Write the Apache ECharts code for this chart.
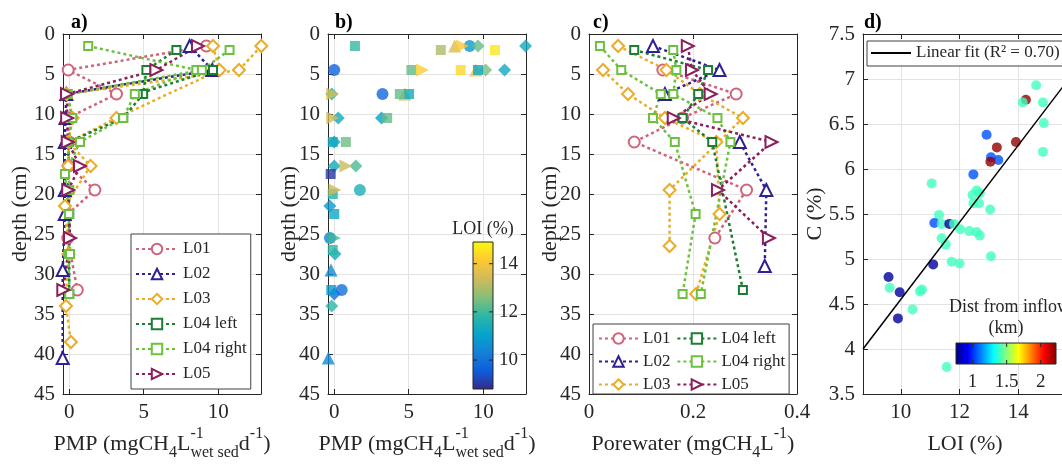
<!DOCTYPE html>
<html>
<head>
<meta charset="utf-8">
<script src="https://cdn.jsdelivr.net/npm/echarts@6.0.0/dist/echarts.min.js"></script>
<style>
  html, body { margin: 0; padding: 0; background: #fff; }
  #chart { width: 1062px; height: 465px; }
</style>
</head>
<body>
<div id="chart"></div>
<script>
// values, one array per profile
const GAP = ['-', '-'];

// a) PMP profiles: [PMP, depth]
const pmpL01 = [[9.2,1.5],[-0.07,4.5],[3.17,7.5],[-0.1,10.5],[0,13.5],[-0.05,16.5],[1.72,19.5],[-0.1,22.5],[-0.1,25.5],[0.54,32]];
const pmpL02 = [[8.08,1.5],[9.6,4.5],[-0.2,7.5],[-0.25,10.5],[-0.3,13.5],[-0.3,19.5],[-0.3,22.5],[-0.44,29.5],[-0.44,40.5]];
const pmpL03 = [[12.89,1.5],[11.39,4.5],[-0.17,7.5],[0.23,10.5],[-0.07,13.5],[1.43,16.5],[-0.29,21.5],[-0.05,27.5],[-0.22,34],[0.11,38.5],
                GAP,[9.65,1.5],[10.09,4.5],[3.17,10.5],[0,13.5],[-0.07,16.5]];
const pmpL04left = [[7.19,2],[5.18,4.5],[4.96,7.5],[3.62,10.5],[-0.05,13.5],[-0.1,19.5],[0,22.5],[0,27.5],[0,32.5],GAP,[9.65,4.5],[4.6,7.5]];
const pmpL04right = [[1.27,1.5],[8.53,4.5],[4.4,7.5],[3.62,10.5],[0.72,13.5],[-0.29,17.5],[-0.02,22.5],[-0.04,27.5],[0,32.5],
                     GAP,[10.76,2],[8.9,4.5],[-0.1,7.5],[0.2,10.5],[-0.07,13.5],[0,19.5],[0.05,27.5]];
const pmpL05 = [[8.64,1.5],[5.85,4.5],[-0.15,7.5],[-0.14,10.5],[-0.1,13.5],[0.72,16.5],[-0.07,19.5],[0.05,25.5],[-0.4,32]];

// b) PMP coloured by LOI: [PMP, depth, LOI]
const loiL01 = [[9.09,1.5,10.8],[0,4.5,9.7],[3.24,7.5,9.8],[1.72,19.5,11.5],[-0.29,25.5,10.3],[0.5,32,10.0]];
const loiL02 = [[8.08,1.5,13.5],[9.5,4.5,13.9],[4.73,7.5,13.3],[-0.22,29.5,10.5],[-0.4,40.5,10.5]];
const loiL03 = [[9.65,1.5,12.3],[12.84,1.5,11.3],[10.16,4.5,12.5],[11.43,4.5,11.3],[-0.17,7.5,11.7],[0.27,10.5,11.3],[3.17,10.5,11.0],
                [0,13.5,11.3],[0,16.5,11.3],[1.45,16.5,12.1],[-0.3,21.5,10.8],[0.05,27.5,11.3],[0,32.5,10.0],[-0.17,34,11.8]];
const loiL04left = [[7.15,2,13.0],[5.18,4.5,12.3],[5.02,7.5,11.3],[3.55,10.5,12.3],[-0.1,13.5,11.3],[0,22.5,11.2],[-0.2,32,10.8]];
const loiL04right = [[1.39,1.5,11.9],[10.79,2,14.6],[8.49,4.5,14.4],[9.65,4.5,11.2],[4.4,7.5,12.3],[0.78,13.5,12.4],[-0.24,17.5,9.0],[-0.1,20,11.6],[-0.1,27,11.8]];
const loiL05 = [[8.6,1.5,14.1],[5.92,4.5,14.2],[-0.1,7.5,13.5],[-0.1,10.5,13.4],[0.78,16.5,13.3],[0.05,19.5,13.4],[0,25.5,12.0]];

// c) porewater CH4: [conc, depth]
const poreL01 = [[0.142,4.5],[0.283,7.5],[0.18,10.5],[0.087,13.5],[0.303,19.5],[0.242,25.5]];
const poreL02 = [[0.123,1.5],[0.251,4.5],[0.146,7.5],GAP,[0.29,13.5],[0.341,19.5],[0.338,29]];
const poreL03 = [[0.056,1.5],[0.149,4.5],[0.213,7.5],[0.296,10.5],[0.155,19.5],[0.155,26.5],
                 GAP,[0.027,4.5],[0.075,7.5],[0.146,10.5],[0.245,13.5],[0.251,22.5],[0.206,32.5]];
const poreL04left = [[0.087,2],[0.229,4.5],[0.21,7.5],[0.18,10.5],[0.237,13.5],[0.296,32]];
const poreL04right = [[0.021,1.5],[0.062,4.5],[0.138,7.5],[0.123,10.5],[0.165,13.5],[0.205,22.5],[0.18,32.5],
                      GAP,[0.162,2],[0.168,4.5],[0.162,7.5],[0.247,10.5],[0.272,13.5],[0.215,32.5]];
const poreL05 = [[0.19,1.5],[0.198,4.5],[0.234,7.5],[0.163,10.5],[0.351,13.5],[0.248,19.5],[0.346,25.5]];

// d) LOI vs C: [LOI, C, distance from inflow]
const locPoints = [
  [14.61,6.93,1.4],[14.26,6.77,2.2],[14.15,6.74,1.4],[14.84,6.74,1.4],[14.87,6.51,1.4],[12.92,6.38,1.05],
  [13.27,6.24,2.2],[13.92,6.30,2.2],[14.84,6.19,1.4],[13.07,6.13,1.05],[13.32,6.10,1.05],[13.05,6.08,2.2],
  [12.47,5.94,1.05],[11.05,5.84,1.4],[12.58,5.76,1.4],[12.44,5.71,1.4],[12.69,5.73,1.4],[12.47,5.62,1.4],
  [12.66,5.62,1.4],[13.04,5.55,1.4],[11.30,5.49,1.4],[11.14,5.40,1.05],[11.39,5.39,1.4],[11.65,5.39,0.8],
  [11.81,5.39,1.4],[12.02,5.33,1.4],[12.33,5.31,1.4],[12.58,5.30,1.4],[12.69,5.26,1.4],[11.39,5.23,1.4],
  [11.53,5.16,1.4],[11.10,4.94,0.8],[13.07,5.03,1.4],[11.73,4.97,1.4],[12.00,4.95,1.4],[9.58,4.80,0.8],
  [9.62,4.68,1.4],[9.96,4.63,0.8],[10.65,4.64,1.4],[10.72,4.66,1.4],[10.40,4.44,1.4],[9.90,4.34,0.8],
  [11.56,3.80,1.4]
];
const fitLine = [[8.71,4.0],[16.0,7.12]];

// ticks and ranges
const depthTicks = [0,5,10,15,20,25,30,35,40,45];
const pmpTicks = [0,5,10];
const poreTicks = [0,0.2,0.4];
const loiTicks = [10,12,14,16];
const cTicks = [3.5,4,4.5,5,5.5,6,6.5,7,7.5];
const loiBarTicks = [10,12,14];
const distBarTicks = [1,1.5,2];
const LOI_MIN = 8.8, LOI_MAX = 14.9;
const DIST_MIN = 0.756, DIST_MAX = 2.225;

const names = ['L01','L02','L03','L04 left','L04 right','L05'];
const pmpData = [pmpL01, pmpL02, pmpL03, pmpL04left, pmpL04right, pmpL05];
const loiData = [loiL01, loiL02, loiL03, loiL04left, loiL04right, loiL05];
const poreData = [poreL01, poreL02, poreL03, poreL04left, poreL04right, poreL05];

// styling
const FONT = '"Liberation Serif", "Times New Roman", serif';
const AX = '#262626';
const GRIDC = '#e3e3e3';
const colors = ['#d0657a','#2e2190','#e9ad2a','#1c7d33','#6cc13e','#8a1f5c'];
const hollow = ['emptyCircle','emptyTriangle','emptyDiamond','emptyRect','emptyRect','emptyTriangle'];
const filled = ['circle','triangle','diamond','rect','rect','triangle'];
const hollowSize = [11,12,12,8,8,12];
const filledSize = [12,13,13,10,10,13];
const rot = [0,0,0,0,0,-90];
const parula = ['#352a87','#0f5cdd','#1481d6','#06a4ca','#2eb7a4','#87bf77','#d1bb59','#fec832','#f9fb0e'];
const jet = ['#000080','#0000ff','#0080ff','#00ffff','#80ff80','#ffff00','#ff8000','#ff0000','#800000'];

const grids = [
  { left: 63, top: 34, width: 198, height: 360 },
  { left: 328, top: 34, width: 198, height: 360 },
  { left: 589, top: 34, width: 208, height: 360 },
  { left: 863, top: 34, width: 214, height: 360 }
].map(g => Object.assign({ outerBoundsMode: 'none', containLabel: false }, g));

function axis(g, min, max, ticks, pos, labels, inverse) {
  return {
    type: 'value', gridIndex: g, min, max, position: pos, inverse: !!inverse,
    axisLine: { show: true, onZero: false, lineStyle: { color: AX, width: 1 } },
    axisTick: { show: true, inside: true, length: 5, customValues: ticks, lineStyle: { color: AX } },
    axisLabel: { show: labels, customValues: ticks, color: AX, fontFamily: FONT, fontSize: 21, margin: 8 },
    splitLine: { show: labels, lineStyle: { color: GRIDC, width: 1 } }
  };
}

const xAxes = [
  axis(0, -0.42, 12.87, pmpTicks, 'bottom', true),
  axis(1, -0.42, 12.87, pmpTicks, 'bottom', true),
  axis(2, 0, 0.4, poreTicks, 'bottom', true),
  axis(3, 8.71, 16, loiTicks, 'bottom', true),
  axis(0, -0.42, 12.87, pmpTicks, 'top', false),
  axis(1, -0.42, 12.87, pmpTicks, 'top', false),
  axis(2, 0, 0.4, poreTicks, 'top', false),
  axis(3, 8.71, 16, loiTicks, 'top', false)
];
const yAxes = [
  axis(0, 0, 45, depthTicks, 'left', true, true),
  axis(1, 0, 45, depthTicks, 'left', true, true),
  axis(2, 0, 45, depthTicks, 'left', true, true),
  axis(3, 3.5, 7.5, cTicks, 'left', true),
  axis(0, 0, 45, depthTicks, 'right', false, true),
  axis(1, 0, 45, depthTicks, 'right', false, true),
  axis(2, 0, 45, depthTicks, 'right', false, true)
];

const series = [];
function profile(i, data, g) {
  return {
    type: 'line', name: names[i], data, xAxisIndex: g, yAxisIndex: g,
    clip: false, connectNulls: false, animation: false,
    symbol: hollow[i], symbolSize: hollowSize[i], symbolRotate: rot[i], showAllSymbol: true,
    color: colors[i],
    lineStyle: { type: [3, 3], width: 2.5, color: colors[i] },
    itemStyle: { color: colors[i], borderWidth: 2 }
  };
}
names.forEach((n, i) => series.push(profile(i, pmpData[i], 0)));
names.forEach((n, i) => series.push(profile(i, poreData[i], 2)));
const bIdx = [];
names.forEach((n, i) => {
  bIdx.push(series.length);
  series.push({
    type: 'scatter', name: 'b ' + n, data: loiData[i], xAxisIndex: 1, yAxisIndex: 1,
    clip: false, animation: false, symbol: filled[i], symbolSize: filledSize[i], symbolRotate: rot[i]
  });
});
const dIdx = series.length;
series.push({
  type: 'scatter', name: 'samples', data: locPoints, xAxisIndex: 3, yAxisIndex: 3,
  animation: false, symbolSize: 10, itemStyle: { opacity: 0.8 }
});
series.push({
  type: 'line', name: 'Linear fit (R² = 0.70)', data: fitLine, xAxisIndex: 3, yAxisIndex: 3,
  symbol: 'none', animation: false, color: '#000', lineStyle: { color: '#000', width: 1.5 }, z: 5
});

// text helpers
const ctx = document.createElement('canvas').getContext('2d');
function tw(s, fs) { ctx.font = fs + 'px ' + FONT; return ctx.measureText(s).width; }
function T(x, y, s, fs, align, extra) {
  return Object.assign({
    type: 'text', x, y, silent: true, z: 100,
    style: { text: s, fill: AX, font: fs + 'px ' + FONT, align: align || 'left', verticalAlign: 'middle' }
  }, extra || {});
}
function bold(x, s) {
  return { type: 'text', x, y: 23, silent: true, z: 100,
    style: { text: s, fill: '#000', font: 'bold 20px ' + FONT, align: 'left', verticalAlign: 'middle' } };
}
function xTitle(cx, parts) {
  const mid = 444, FS = 22, SS = 16;
  const ws = parts.map(p => p.t ? tw(p.t, FS) : Math.max(p.sup ? tw(p.sup, SS) : 0, p.sub ? tw(p.sub, SS) : 0));
  let x = cx - ws.reduce((a, b) => a + b, 0) / 2;
  const out = [];
  parts.forEach((p, i) => {
    if (p.t) out.push(T(x, mid, p.t, FS));
    if (p.sup) out.push(T(x, mid - 10, p.sup, SS));
    if (p.sub) out.push(T(x, mid + 9, p.sub, SS));
    x += ws[i];
  });
  return out;
}
function yTitle(x, s) {
  return T(x, 214, s, 22, 'center', { rotation: Math.PI / 2 });
}
function stops(cols) { return cols.map((c, i) => ({ offset: i / (cols.length - 1), color: c })); }

function colorbarV(x, y, w, h, cols, min, max, ticks) {
  const els = [{ type: 'rect', z: 100, shape: { x, y, width: w, height: h },
    style: { fill: new echarts.graphic.LinearGradient(0, 1, 0, 0, stops(cols)), stroke: AX, lineWidth: 1 } }];
  ticks.forEach(v => {
    const ty = y + h * (1 - (v - min) / (max - min));
    els.push({ type: 'line', z: 101, shape: { x1: x + w - 4, y1: ty, x2: x + w, y2: ty }, style: { stroke: AX } });
    els.push({ type: 'line', z: 101, shape: { x1: x, y1: ty, x2: x + 4, y2: ty }, style: { stroke: AX } });
    els.push(T(x + w + 6, ty, String(v), 19));
  });
  return els;
}
function colorbarH(x, y, w, h, cols, min, max, ticks) {
  const els = [{ type: 'rect', z: 100, shape: { x, y, width: w, height: h },
    style: { fill: new echarts.graphic.LinearGradient(0, 0, 1, 0, stops(cols)), stroke: AX, lineWidth: 1 } }];
  ticks.forEach(v => {
    const tx = x + w * (v - min) / (max - min);
    els.push({ type: 'line', z: 101, shape: { x1: tx, y1: y + h - 4, x2: tx, y2: y + h }, style: { stroke: AX } });
    els.push({ type: 'line', z: 101, shape: { x1: tx, y1: y, x2: tx, y2: y + 4 }, style: { stroke: AX } });
    els.push(T(tx, y + h + 18, String(v), 19, 'center'));
  });
  return els;
}

const pmpParts = [{ t: 'PMP (mgCH' }, { sub: '4' }, { t: 'L' }, { sup: '-1', sub: 'wet sed' }, { t: 'd' }, { sup: '-1' }, { t: ')' }];
const graphics = [].concat(
  [
    bold(71, 'a)'), bold(335, 'b)'), bold(593, 'c)'), bold(864, 'd)'),
    yTitle(20.5, 'depth (cm)'),
    yTitle(289.5, 'depth (cm)'),
    yTitle(550, 'depth (cm)'),
    yTitle(815, 'C (%)'),
    T(483, 229, 'LOI (%)', 18, 'center'),
    T(949, 307, 'Dist from inflow', 18, 'left'),
    T(1006, 328, '(km)', 18, 'center')
  ],
  xTitle(162, pmpParts),
  xTitle(427, pmpParts),
  xTitle(693, [{ t: 'Porewater (mgCH' }, { sub: '4' }, { t: 'L' }, { sup: '-1' }, { t: ')' }]),
  xTitle(965, [{ t: 'LOI (%)' }]),
  colorbarV(473, 242, 20, 147, parula, LOI_MIN, LOI_MAX, loiBarTicks),
  colorbarH(956, 343, 100, 21, jet, DIST_MIN, DIST_MAX, distBarTicks)
);

const legendText = { color: AX, fontFamily: FONT, fontSize: 17 };
const option = {
  animation: false,
  backgroundColor: '#fff',
  textStyle: { fontFamily: FONT },
  grid: grids,
  xAxis: xAxes,
  yAxis: yAxes,
  visualMap: [
    { type: 'continuous', show: false, seriesIndex: bIdx, dimension: 2, min: LOI_MIN, max: LOI_MAX, inRange: { color: parula } },
    { type: 'continuous', show: false, seriesIndex: [dIdx], dimension: 2, min: DIST_MIN, max: DIST_MAX, inRange: { color: jet } }
  ],
  legend: [
    {
      data: names, orient: 'vertical', left: 131, top: 234, selectedMode: false,
      itemWidth: 42, itemHeight: 13, itemGap: 5, padding: [5, 4, 5, 4],
      borderColor: '#404040', borderWidth: 1, backgroundColor: '#fff',
      textStyle: Object.assign({ lineHeight: 20 }, legendText)
    },
    {
      data: ['L01', 'L04 left', 'L02', 'L04 right', 'L03', 'L05'], orient: 'horizontal',
      left: 593, top: 324, width: 195, selectedMode: false,
      itemWidth: 39, itemHeight: 13, itemGap: 6, padding: [6, 4, 1, 5],
      borderColor: '#404040', borderWidth: 1, backgroundColor: '#fff',
      textStyle: Object.assign({ lineHeight: 15 }, legendText)
    },
    {
      data: [{ name: 'Linear fit (R² = 0.70)', icon: 'rect' }], left: 867, top: 41, selectedMode: false,
      itemWidth: 40, itemHeight: 2, padding: [2, 4, 3, 4],
      borderColor: '#404040', borderWidth: 1, backgroundColor: '#fff',
      textStyle: Object.assign({ lineHeight: 20 }, legendText)
    }
  ],
  series,
  graphic: graphics
};

const chart = echarts.init(document.getElementById('chart'), null, { renderer: 'canvas' });
chart.setOption(option);
</script>
</body>
</html>
